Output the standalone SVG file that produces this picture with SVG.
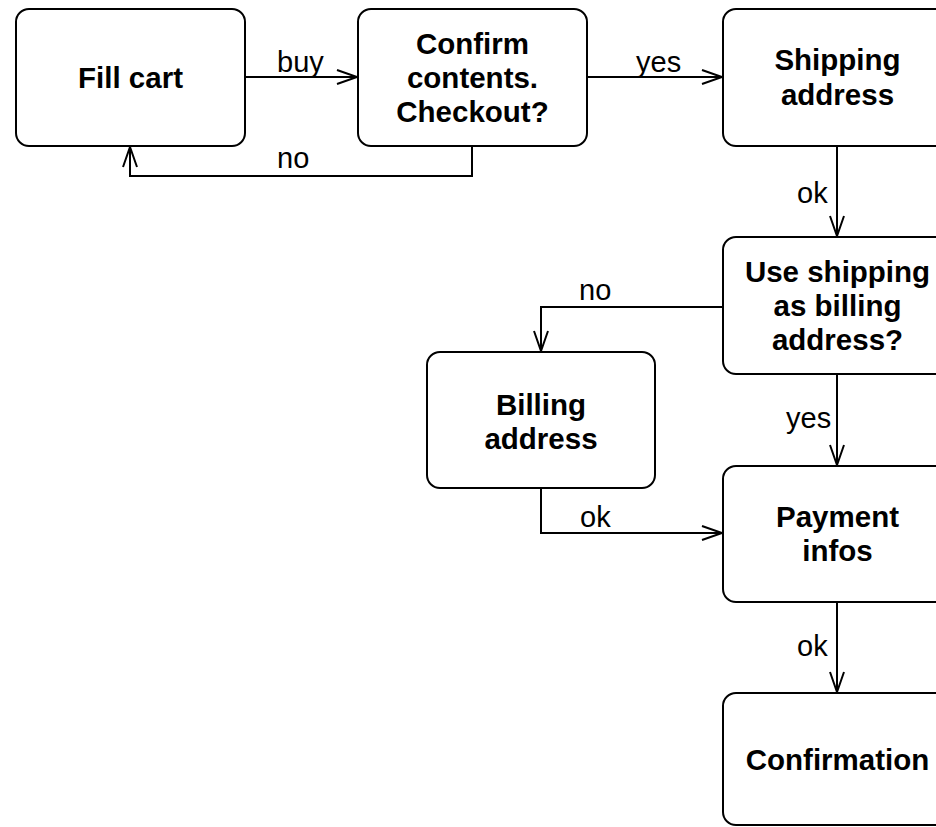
<svg xmlns="http://www.w3.org/2000/svg" width="936" height="827" viewBox="0 0 936 827">
<style>
.box{fill:#fff;stroke:#000;stroke-width:2}
.t{font-family:"Liberation Sans",Arial,sans-serif;font-weight:bold;font-size:29.5px;text-anchor:middle;fill:#000}
.l{font-family:"Liberation Sans",Arial,sans-serif;font-size:29px;fill:#000}
.c{fill:none;stroke:#000;stroke-width:2}
</style>
<defs>
<marker id="a" markerWidth="24" markerHeight="18" refX="21" refY="8" orient="auto" markerUnits="userSpaceOnUse">
<path d="M1,1 L21,8 L1,15" fill="none" stroke="#000" stroke-width="2"/>
</marker>
</defs>
<rect width="936" height="827" fill="#fff"/>
<g id="connectors">
<path class="c" d="M245,77 H357" marker-end="url(#a)"/>
<path class="c" d="M587,77 H722" marker-end="url(#a)"/>
<path class="c" d="M472,146 V176 H130 V147" marker-end="url(#a)"/>
<path class="c" d="M837,146 V236" marker-end="url(#a)"/>
<path class="c" d="M723,307 H541 V351" marker-end="url(#a)"/>
<path class="c" d="M837,374 V465" marker-end="url(#a)"/>
<path class="c" d="M541,488 V533 H722" marker-end="url(#a)"/>
<path class="c" d="M837,602 V692" marker-end="url(#a)"/>
<text class="l" x="277" y="72">buy</text>
<text class="l" x="636" y="72">yes</text>
<text class="l" x="277" y="168">no</text>
<text class="l" x="797" y="203">ok</text>
<text class="l" x="579" y="300">no</text>
<text class="l" x="786" y="428">yes</text>
<text class="l" x="580" y="527">ok</text>
<text class="l" x="797" y="656">ok</text>
</g>
<g id="fill-cart">
<rect class="box" x="16" y="9" width="229" height="137" rx="13"/>
<text class="t" x="130.5" y="88">Fill cart</text>
</g>
<g id="confirm">
<rect class="box" x="358" y="9" width="229" height="137" rx="13"/>
<text class="t" x="472.5" y="54">Confirm</text>
<text class="t" x="472.5" y="88">contents.</text>
<text class="t" x="472.5" y="122">Checkout?</text>
</g>
<g id="shipping">
<rect class="box" x="723" y="9" width="229" height="137" rx="13"/>
<text class="t" x="837.5" y="70">Shipping</text>
<text class="t" x="837.5" y="105">address</text>
</g>
<g id="use-shipping">
<rect class="box" x="723" y="237" width="229" height="137" rx="13"/>
<text class="t" x="837.5" y="282">Use shipping</text>
<text class="t" x="837.5" y="316">as billing</text>
<text class="t" x="837.5" y="350">address?</text>
</g>
<g id="billing">
<rect class="box" x="427" y="352" width="228" height="136" rx="13"/>
<text class="t" x="541" y="415">Billing</text>
<text class="t" x="541" y="449">address</text>
</g>
<g id="payment">
<rect class="box" x="723" y="466" width="229" height="136" rx="13"/>
<text class="t" x="837.5" y="527">Payment</text>
<text class="t" x="837.5" y="561">infos</text>
</g>
<g id="confirmation">
<rect class="box" x="723" y="693" width="229" height="132" rx="13"/>
<text class="t" x="837.5" y="770">Confirmation</text>
</g>
</svg>
